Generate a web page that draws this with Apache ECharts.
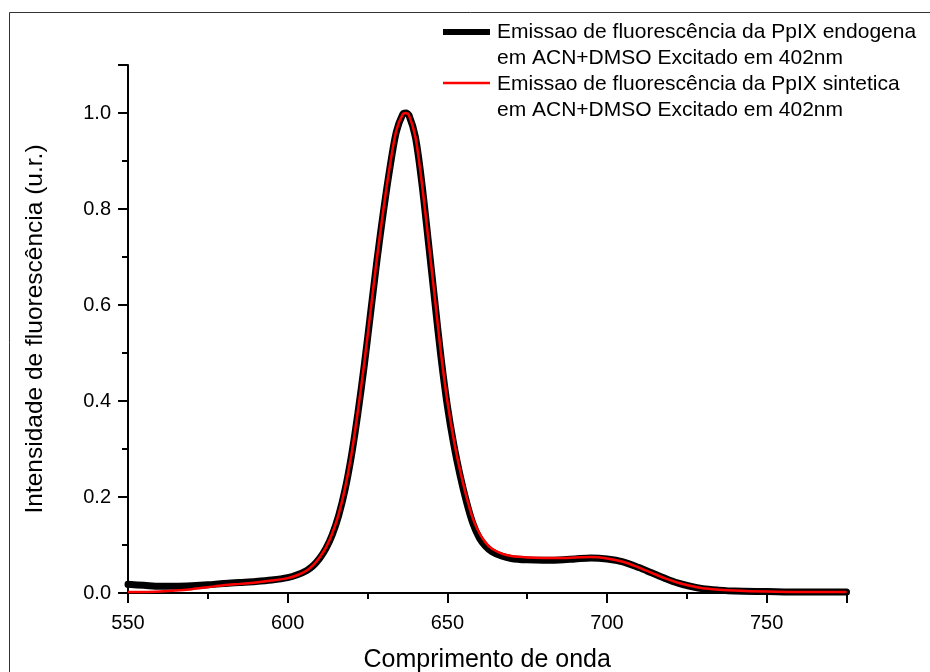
<!DOCTYPE html>
<html>
<head>
<meta charset="utf-8">
<script src="https://cdn.jsdelivr.net/npm/echarts@6/dist/echarts.min.js"></script>
<style>
  html, body { margin: 0; padding: 0; background: #fff; }
  #chart { width: 930px; height: 672px; }
</style>
</head>
<body>
<div id="chart"></div>
<script>
// Emission wavelengths (nm)
const wavelengths = [550,555,560,565,570,575,580,585,590,595,600,603,606,608,610,612,614,616,618,620,622,624,626,628,630,632,634,636,637,638,640,642,644,646,648,650,652,654,656,658,660,662,664,667,670,675,680,685,690,695,700,705,710,714,718,722,726,730,735,740,750,760,775];

// Endogenous PpIX emission (normalised)
const endogena = [0.018,0.016,0.014,0.014,0.015,0.017,0.020,0.022,0.024,0.027,0.032,0.038,0.047,0.057,0.072,0.093,0.122,0.162,0.216,0.287,0.375,0.475,0.585,0.695,0.795,0.885,0.960,0.997,1.000,0.995,0.950,0.855,0.735,0.612,0.492,0.390,0.310,0.245,0.190,0.145,0.115,0.097,0.086,0.077,0.072,0.069,0.068,0.069,0.071,0.073,0.071,0.065,0.053,0.042,0.031,0.021,0.014,0.009,0.006,0.004,0.003,0.002,0.002];

// Synthetic PpIX emission (normalised)
const sintetica = [0.002,0.002,0.003,0.005,0.008,0.012,0.016,0.019,0.022,0.026,0.031,0.037,0.047,0.058,0.074,0.095,0.125,0.165,0.220,0.290,0.380,0.480,0.590,0.700,0.800,0.890,0.963,0.997,1.000,0.995,0.950,0.855,0.740,0.620,0.500,0.400,0.320,0.255,0.200,0.155,0.125,0.105,0.092,0.082,0.077,0.074,0.073,0.073,0.074,0.075,0.072,0.065,0.053,0.042,0.031,0.022,0.015,0.010,0.007,0.005,0.003,0.002,0.002];

const legendLines = [
  ['Emissao de fluorescência da PpIX endogena', 'em ACN+DMSO Excitado em 402nm'],
  ['Emissao de fluorescência da PpIX sintetica', 'em ACN+DMSO Excitado em 402nm']
];
const peakLabel = '636nm';
const peakWavelength = 636;

const font = '"Liberation Sans", Arial, Helvetica, sans-serif';

function pairs(xs, ys) { return xs.map((x, i) => [x, ys[i]]); }

const chart = echarts.init(document.getElementById('chart'), null, { renderer: 'canvas' });

chart.setOption({
  animation: false,
  backgroundColor: '#ffffff',
  grid: { left: 128, right: 83.5, top: 65, bottom: 79, containLabel: false, outerBoundsMode: 'none' },
  xAxis: {
    type: 'value',
    min: 550, max: 775, interval: 50,
    name: 'Comprimento de onda',
    nameLocation: 'middle',
    nameGap: 55,
    nameTextStyle: { fontFamily: font, fontSize: 25, color: '#000' },
    axisLine: { lineStyle: { color: '#000', width: 2 } },
    axisTick: { show: true, inside: false, length: 10, lineStyle: { color: '#000', width: 2 } },
    minorTick: { show: true, splitNumber: 2, length: 6, lineStyle: { color: '#000', width: 2 } },
    axisLabel: { fontFamily: font, fontSize: 20, color: '#000', margin: 20,
      showMaxLabel: false },
    splitLine: { show: false }
  },
  yAxis: {
    type: 'value',
    min: 0, max: 1.1, interval: 0.2,
    name: 'Intensidade de fluorescência (u.r.)',
    nameLocation: 'middle',
    nameGap: 80,
    nameTextStyle: { fontFamily: font, fontSize: 24.5, color: '#000' },
    axisLine: { show: true, lineStyle: { color: '#000', width: 2 } },
    axisTick: { show: true, inside: false, length: 10, lineStyle: { color: '#000', width: 2 } },
    minorTick: { show: true, splitNumber: 2, length: 6, lineStyle: { color: '#000', width: 2 } },
    axisLabel: { fontFamily: font, fontSize: 20, color: '#000', margin: 17,
      showMaxLabel: false,
      formatter: v => v.toFixed(1) },
    splitLine: { show: false }
  },
  series: [
    {
      name: legendLines[0].join(' '),
      type: 'line',
      data: pairs(wavelengths, endogena),
      smooth: 0.3,
      showSymbol: false,
      symbol: 'none',
      lineStyle: { color: '#000', width: 7, join: 'round', cap: 'round' },
      z: 2,
      markPoint: {
        symbol: 'none',
        data: [{ coord: [peakWavelength, 1.0] }],
        label: {
          show: true,
          formatter: peakLabel,
          fontFamily: font,
          fontSize: 19,
          color: '#000',
          offset: [-46, -8]
        }
      }
    },
    {
      name: legendLines[1].join(' '),
      type: 'line',
      data: pairs(wavelengths, sintetica),
      smooth: 0.3,
      showSymbol: false,
      symbol: 'none',
      lineStyle: { color: '#ff0000', width: 2.5, join: 'round' },
      z: 3
    }
  ],
  graphic: [
    // outer frame
    { type: 'rect', shape: { x: 9.5, y: 12.5, width: 1200, height: 1200 },
      style: { fill: null, stroke: '#333', lineWidth: 1 }, silent: true, z: 0 },
    // legend keys
    { type: 'line', shape: { x1: 443, y1: 32, x2: 490, y2: 32 },
      style: { stroke: '#000', lineWidth: 6 }, z: 10 },
    { type: 'line', shape: { x1: 443, y1: 83, x2: 490, y2: 83 },
      style: { stroke: '#ff0000', lineWidth: 2.5 }, z: 10 },
    { type: 'text', x: 497, y: 32, style: { text: legendLines[0][0], font: '21px ' + font, fill: '#000', verticalAlign: 'middle' }, z: 10 },
    { type: 'text', x: 497, y: 58, style: { text: legendLines[0][1], font: '21px ' + font, fill: '#000', verticalAlign: 'middle' }, z: 10 },
    { type: 'text', x: 497, y: 84, style: { text: legendLines[1][0], font: '21px ' + font, fill: '#000', verticalAlign: 'middle' }, z: 10 },
    { type: 'text', x: 497, y: 110, style: { text: legendLines[1][1], font: '21px ' + font, fill: '#000', verticalAlign: 'middle' }, z: 10 }
  ]
});
</script>
</body>
</html>
